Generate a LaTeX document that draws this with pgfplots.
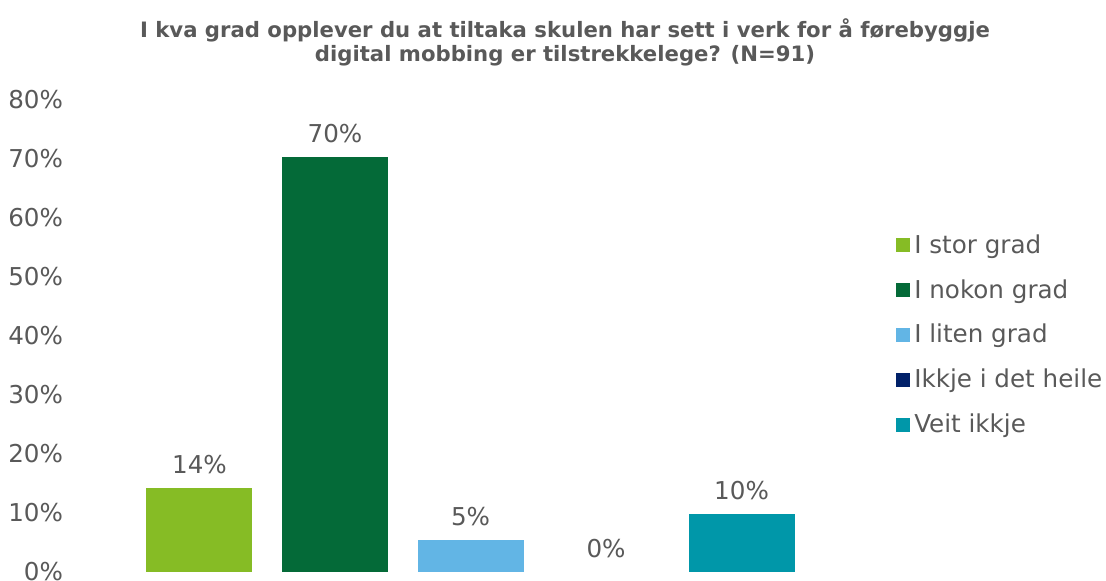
\documentclass[border=0pt]{standalone}
\usepackage{fontspec}
\setmainfont{DejaVu Sans}
\usepackage{pgfplots}
\pgfplotsset{compat=1.18}
\definecolor{txt}{HTML}{595959}
\definecolor{cA}{HTML}{86BC25}
\definecolor{cB}{HTML}{046A38}
\definecolor{cC}{HTML}{62B5E5}
\definecolor{cD}{HTML}{012169}
\definecolor{cE}{HTML}{0097A9}
\begin{document}
\begin{tikzpicture}[x=1pt,y=1pt]
\useasboundingbox (0,0) rectangle (553,290.5);
\node[text=txt, font=\bfseries\fontsize{10.6}{12}\selectfont, align=center] at (282.5,269.5)
  {I kva grad opplever du at tiltaka skulen har sett i verk for å førebyggje\\digital mobbing er tilstrekkelege? (N=91)};
\begin{axis}[
  at={(55pt,4.5pt)}, anchor=south west,
  scale only axis, width=360.5pt, height=236pt,
  xmin=-0.66, xmax=4.66, ymin=0, ymax=80,
  ytick={0,10,...,80},
  xtick=\empty,
  axis line style={draw=none},
  major tick style={draw=none},
  yticklabel={\pgfmathprintnumber{\tick}\%},
  /pgf/number format/assume math mode=true,
  ticklabel style={font=\fontsize{12.3}{14}\selectfont, text=txt},
  yticklabel style={xshift=-20pt},
  ybar, bar width=53pt, bar shift=0pt,
  nodes near coords={\pgfmathprintnumber[fixed,precision=0]{\pgfplotspointmeta}\%},
  every node near coord/.append style={font=\fontsize{12.3}{14}\selectfont, text=txt, yshift=3.5pt},
  area legend,
  legend style={draw=none, fill=none, inner sep=0pt, at={(1.090,0.502)}, anchor=west,
    font=\fontsize{12.3}{14}\selectfont, text=txt, row sep=7.6pt,
    /tikz/every even column/.append style={column sep=0pt}},
  legend cell align=left,
  legend image code/.code={\fill[#1] (0,-3.5pt) rectangle (7pt,3.5pt);},
]
\addplot[fill=cA, draw=none] coordinates {(0,14.3)};
\addlegendentry{I stor grad}
\addplot[fill=cB, draw=none] coordinates {(1,70.3)};
\addlegendentry{I nokon grad}
\addplot[fill=cC, draw=none] coordinates {(2,5.49)};
\addlegendentry{I liten grad}
\addplot[fill=none, draw=none, legend image code/.code={\fill[cD] (0,-3.5pt) rectangle (7pt,3.5pt);}] coordinates {(3,0)};
\addlegendentry{Ikkje i det heile}
\addplot[fill=cE, draw=none] coordinates {(4,9.9)};
\addlegendentry{Veit ikkje}
\end{axis}
\end{tikzpicture}
\end{document}
